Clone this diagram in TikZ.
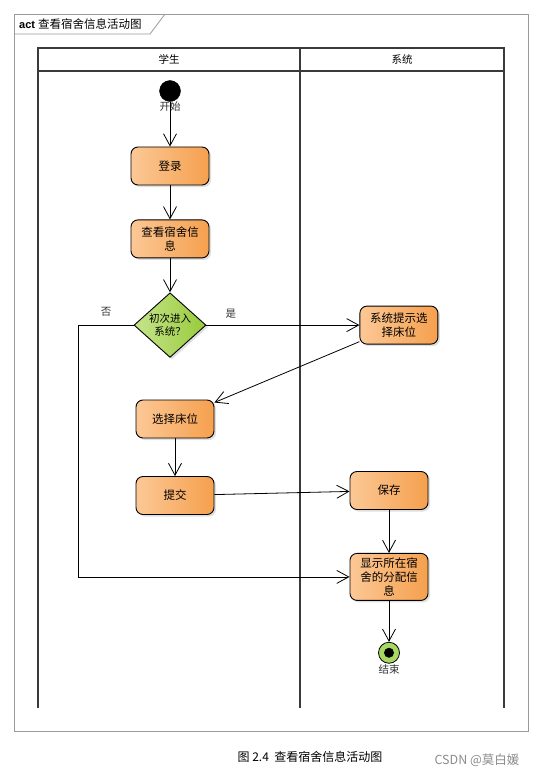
\documentclass[tikz,border=0pt]{standalone}
\usepackage{fontspec}
\setsansfont{Liberation Sans}
\newfontfamily\cjk{Noto Sans CJK SC}
\usetikzlibrary{shapes.geometric, arrows.meta, positioning, shadows}
\definecolor{ActLight}{HTML}{FCC896}
\definecolor{ActDark}{HTML}{F5A04E}
\definecolor{DecLight}{HTML}{C6E48C}
\definecolor{DecDark}{HTML}{98CB3A}
\definecolor{EndGreen}{HTML}{A9D862}
\definecolor{LaneGray}{HTML}{3A3A3A}
\definecolor{FrameGray}{HTML}{9A9A9A}
\tikzset{
    act/.style={rectangle, rounded corners=7pt, draw=black, line width=0.9pt, left color=ActLight, right color=ActDark, drop shadow={shadow xshift=2pt, shadow yshift=-2pt, fill=black!25}, align=center, font=\cjk\fontsize{11.5}{14}\selectfont, minimum width=78pt, minimum height=38pt, inner sep=3pt},
    decision/.style={diamond, draw=black, line width=0.9pt, left color=DecLight, right color=DecDark, drop shadow={shadow xshift=2pt, shadow yshift=-2pt, fill=black!25}, align=center, font=\cjk\fontsize{10.5}{13}\selectfont, minimum width=72pt, minimum height=64pt, inner sep=0pt},
    startnode/.style={circle, fill=black, draw=black, minimum size=21pt, inner sep=0pt},
    endnode/.style={circle, fill=EndGreen, draw=black, line width=0.8pt, minimum size=21pt, inner sep=0pt, path picture={\fill[black] (path picture bounding box.center) circle (5pt);}},
    lbl/.style={font=\cjk\fontsize{10.5}{12}\selectfont, text=black!80, inner sep=0pt},
    arr/.style={-{Straight Barb[length=12pt, width=13pt]}, line width=0.8pt},
    lane/.style={draw=LaneGray, line width=1.6pt}
}

\begin{document}
\begin{tikzpicture}[x=1pt, y=1pt]
    \useasboundingbox (0,0) rectangle (546,-778);

    % Outer frame with title tab
    \draw[FrameGray, line width=0.8pt] (14,-14) rectangle (528,-731);
    \draw[FrameGray, line width=0.8pt] (14,-34) -- (150,-34) -- (165,-14);
    \node[anchor=west, inner sep=0pt] (title) at (19,-24) {\sffamily\bfseries\fontsize{11}{12}\selectfont act \cjk\mdseries\fontsize{11.5}{12}\selectfont 查看宿舍信息活动图};

    % Swimlanes
    \draw[lane] (38,-708) -- (38,-48) -- (504,-48) -- (504,-708);
    \draw[lane] (300,-48) -- (300,-708);
    \draw[lane] (38,-71) -- (504,-71);
    \node[lbl, text=black] (laneA) at (169,-59.5) {学生};
    \node[lbl, text=black] (laneB) at (402,-59.5) {系统};

    % Student lane
    \node[startnode, label={[lbl, label distance=0pt]below:开始}] (start) at (170,-91) {};
    \node[act] (login) at (170,-166) {登录};
    \node[act, below=34pt of login] (check) {查看宿舍信\\息};
    \node[decision, below=34pt of check] (dec) {初次进入\\系统？};
    \node[act] (choose) at (175,-419) {选择床位};
    \node[act] (submit) at (175,-495.5) {提交};

    % System lane
    \node[act, right=153pt of dec] (prompt) {系统提示选\\择床位};
    \node[act] (save) at (389,-490.5) {保存};
    \node[act, below=43pt of save, minimum height=47pt] (show) {显示所在宿\\舍的分配信\\息};
    \node[endnode, below=41pt of show, label={[lbl, label distance=1pt]below:结束}] (end) {};

    % Edges
    \draw[arr] (start) -- (login);
    \draw[arr] (login) -- (check);
    \draw[arr] (check) -- (dec);
    \draw[arr] (dec) -- node[lbl, pos=0.16, above=6pt] {是} (prompt);
    \draw[arr] (dec.west) -- node[lbl, pos=0.5, above=8pt] {否} ++(-55,0) |- (show.west);
    \draw[arr] (prompt) -- (choose);
    \draw[arr] (choose) -- (submit);
    \draw[arr] (submit) -- (save);
    \draw[arr] (save) -- (show);
    \draw[arr] (show) -- (end);

    % Caption
    \node[font=\cjk\fontsize{12}{14}\selectfont] (caption) at (310,-757) {图 2.4\ \ 查看宿舍信息活动图};
    \node[font=\cjk\fontsize{12.5}{14}\selectfont, text=black!45] (mark) at (477,-760) {CSDN @莫白媛};
\end{tikzpicture}
\end{document}
